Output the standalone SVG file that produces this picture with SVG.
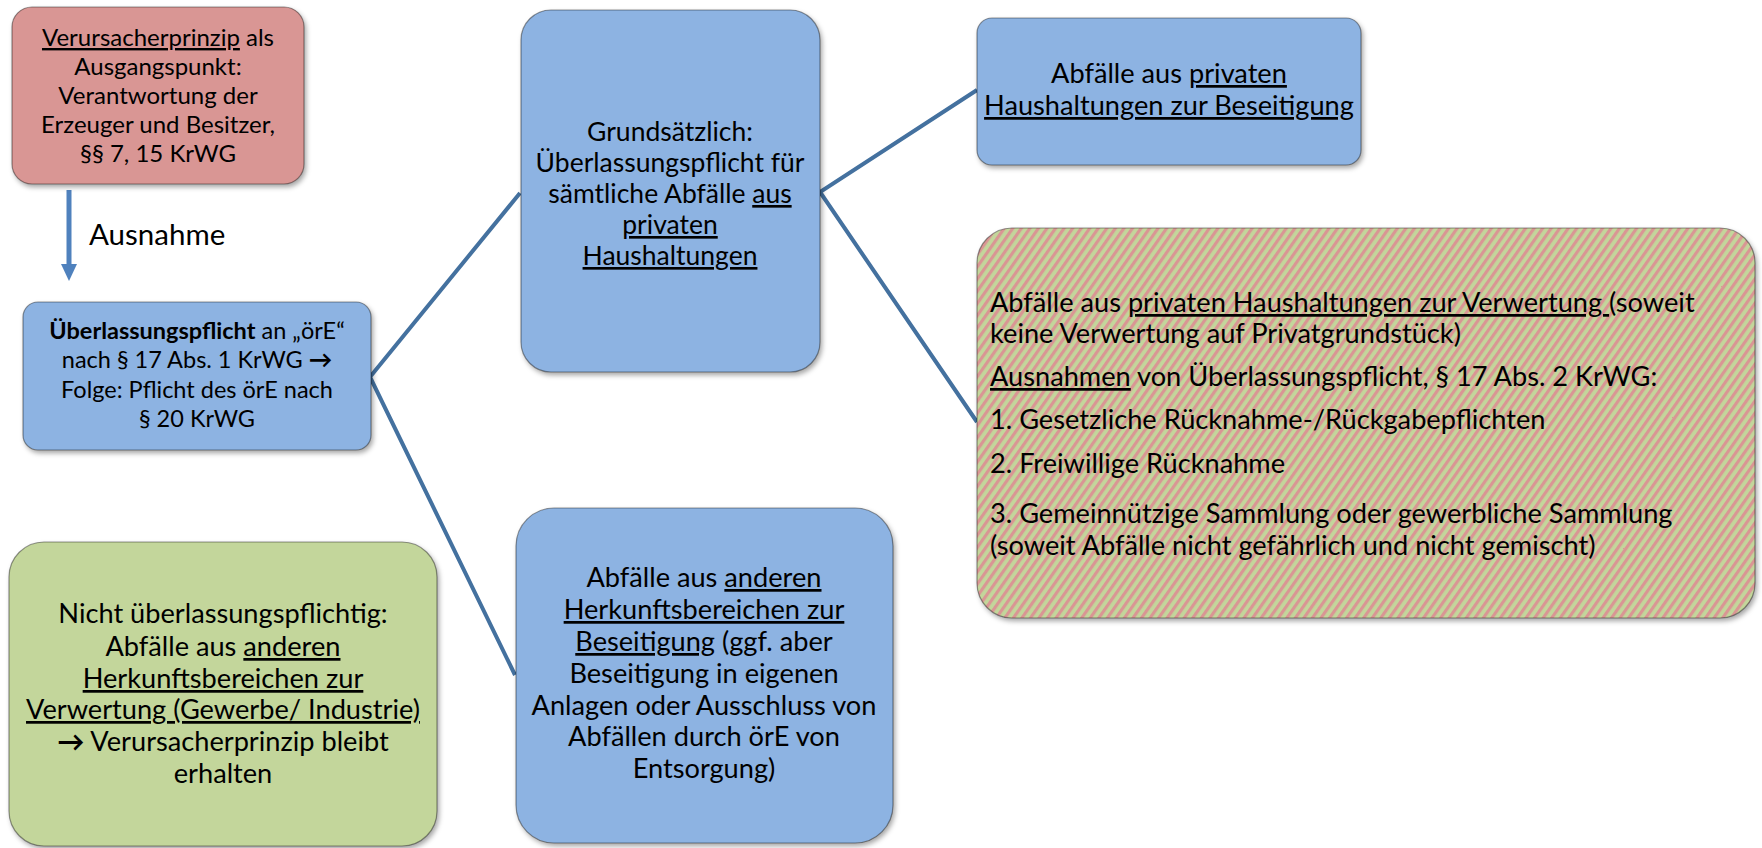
<svg xmlns="http://www.w3.org/2000/svg" width="1762" height="848" viewBox="0 0 1762 848">
<style>
text{font-family:Lato,"Liberation Sans",sans-serif;fill:#000;}
.t{font-size:27.2px;text-anchor:middle;}
.g{font-size:26.5px;text-anchor:middle;}
.s{font-size:24px;text-anchor:middle;}
.l{font-size:27.2px;}
.u{text-decoration:underline;}
.b{font-weight:bold;}
.box{stroke:rgba(0,0,0,0.4);stroke-width:1.2;filter:url(#sh);}
.conn{fill:none;stroke:#44719F;stroke-width:4;stroke-linejoin:miter;}
</style>
<defs>
<filter id="sh" x="-10%" y="-10%" width="125%" height="125%">
<feDropShadow dx="2" dy="3" stdDeviation="2.5" flood-color="#000" flood-opacity="0.35"/>
</filter>
<pattern id="hatch" patternUnits="userSpaceOnUse" width="7" height="20" patternTransform="rotate(35)">
<rect x="0" y="0" width="7" height="20" fill="#C3D69B"/>
<rect x="0" y="0" width="3.2" height="20" fill="#D99694"/>
</pattern>
</defs>

<g id="connectors">
<polyline class="conn" points="520,193 370,377 515,675"/>
<polyline class="conn" points="977,90 820,192 977,422"/>
<line x1="69" y1="190" x2="69" y2="266" stroke="#4F81BD" stroke-width="5"/>
<polygon points="61,264 77,264 69,281" fill="#4F81BD"/>
</g>

<g id="label-ausnahme">
<text x="89" y="245" style="font-size:29.5px">Ausnahme</text>
</g>

<g id="node-verursacher">
<rect class="box" x="12" y="7" width="292" height="177" rx="20" fill="#D99694"/>
<text class="s" x="158" y="46"><tspan class="u">Verursacherprinzip</tspan> als</text>
<text class="s" x="158" y="75">Ausgangspunkt:</text>
<text class="s" x="158" y="104">Verantwortung der</text>
<text class="s" x="158" y="133">Erzeuger und Besitzer,</text>
<text class="s" x="158" y="162">§§ 7, 15 KrWG</text>
</g>

<g id="node-ueberlassungspflicht">
<rect class="box" x="23" y="302" width="348" height="148" rx="15" fill="#8DB3E2"/>
<text class="s" x="197" y="339" style="font-size:23.5px"><tspan class="b">Überlassungspflicht</tspan> an „örE“</text>
<text class="s" x="197" y="368" style="font-size:23.5px">nach § 17 Abs. 1 KrWG <tspan class="b">→</tspan></text>
<text class="s" x="197" y="398" style="font-size:23.5px">Folge: Pflicht des örE nach</text>
<text class="s" x="197" y="427" style="font-size:23.5px">§ 20 KrWG</text>
</g>

<g id="node-nicht">
<rect class="box" x="9" y="542" width="428" height="304" rx="35" fill="#C3D69B"/>
<text class="t" x="223" y="623">Nicht überlassungspflichtig:</text>
<text class="t" x="223" y="656">Abfälle aus <tspan class="u">anderen</tspan></text>
<text class="t" x="223" y="688"><tspan class="u">Herkunftsbereichen zur</tspan></text>
<text class="t" x="223" y="719"><tspan class="u">Verwertung (Gewerbe/ Industrie)</tspan></text>
<text class="t" x="223" y="751"><tspan class="b">→</tspan> Verursacherprinzip bleibt</text>
<text class="t" x="223" y="783">erhalten</text>
</g>

<g id="node-grundsaetzlich">
<rect class="box" x="521" y="10" width="299" height="362" rx="30" fill="#8DB3E2"/>
<text class="g" x="670" y="141">Grundsätzlich:</text>
<text class="g" x="670" y="172">Überlassungspflicht für</text>
<text class="g" x="670" y="203">sämtliche Abfälle <tspan class="u">aus</tspan></text>
<text class="g" x="670" y="234"><tspan class="u">privaten</tspan></text>
<text class="g" x="670" y="265"><tspan class="u">Haushaltungen</tspan></text>
</g>

<g id="node-andere-beseitigung">
<rect class="box" x="516" y="508" width="377" height="335" rx="38" fill="#8DB3E2"/>
<text class="t" x="704" y="587">Abfälle aus <tspan class="u">anderen</tspan></text>
<text class="t" x="704" y="619"><tspan class="u">Herkunftsbereichen zur</tspan></text>
<text class="t" x="704" y="651"><tspan class="u">Beseitigung</tspan> (ggf. aber</text>
<text class="t" x="704" y="683">Beseitigung in eigenen</text>
<text class="t" x="704" y="715">Anlagen oder Ausschluss von</text>
<text class="t" x="704" y="746">Abfällen durch örE von</text>
<text class="t" x="704" y="778">Entsorgung)</text>
</g>

<g id="node-private-beseitigung">
<rect class="box" x="977" y="18" width="384" height="147" rx="15" fill="#8DB3E2"/>
<text class="t" x="1169" y="83">Abfälle aus <tspan class="u">privaten</tspan></text>
<text class="t" x="1169" y="115"><tspan class="u">Haushaltungen zur Beseitigung</tspan></text>
</g>

<g id="node-private-verwertung">
<rect class="box" x="977" y="228" width="778" height="390" rx="35" fill="url(#hatch)"/>
<text class="l" x="990" y="312" xml:space="preserve">Abfälle aus <tspan class="u">privaten Haushaltungen zur Verwertung </tspan>(soweit</text>
<text class="l" x="990" y="343">keine Verwertung auf Privatgrundstück)</text>
<text class="l" x="990" y="386"><tspan class="u">Ausnahmen</tspan> von Überlassungspflicht, § 17 Abs. 2 KrWG:</text>
<text class="l" x="990" y="429">1. Gesetzliche Rücknahme-/Rückgabepflichten</text>
<text class="l" x="990" y="473">2. Freiwillige Rücknahme</text>
<text class="l" x="990" y="523">3. Gemeinnützige Sammlung oder gewerbliche Sammlung</text>
<text class="l" x="990" y="555">(soweit Abfälle nicht gefährlich und nicht gemischt)</text>
</g>
</svg>
